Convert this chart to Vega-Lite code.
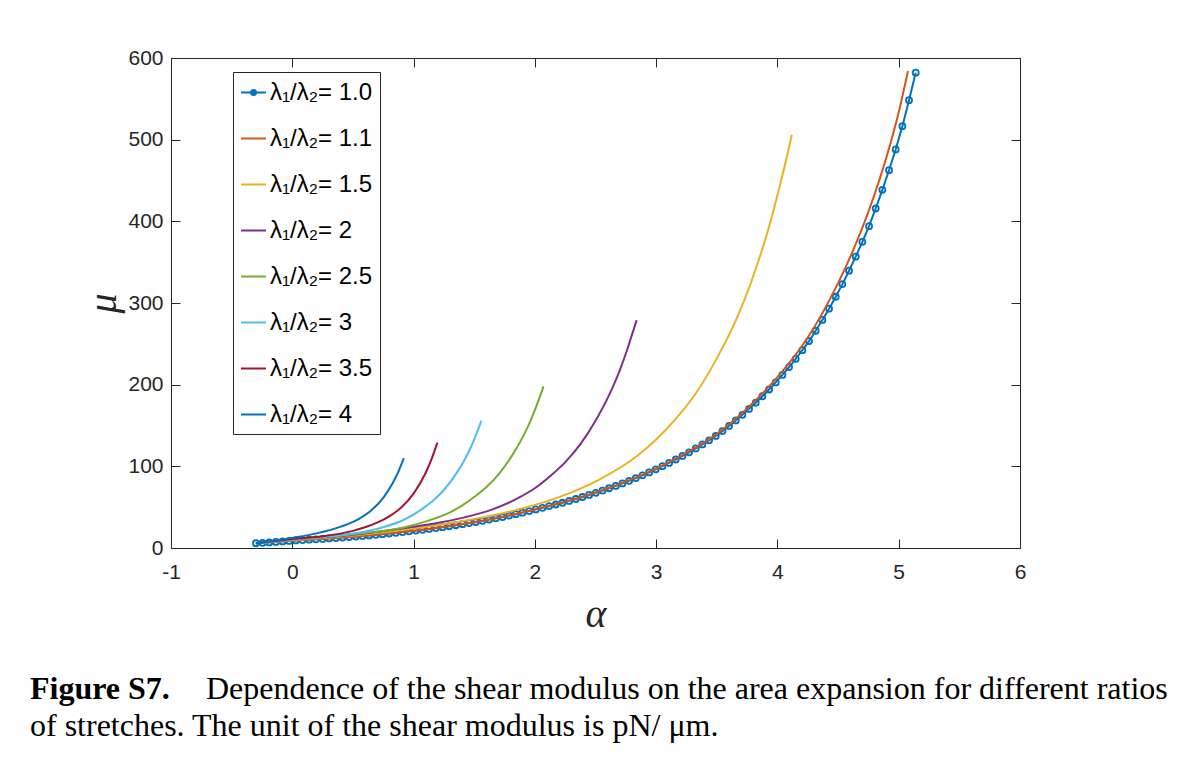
{
  "$schema": "https://vega.github.io/schema/vega-lite/v6.json",
  "width": 849,
  "height": 490,
  "autosize": {"type": "none"},
  "padding": {"left": 171, "top": 58, "right": 178, "bottom": 212},
  "background": "white",
  "config": {
    "view": {"stroke": "#262626", "strokeWidth": 1},
    "axis": {"grid": false, "domainColor": "#262626", "tickColor": "#262626", "labelColor": "#262626", "labelFont": "Liberation Sans", "labelFontSize": 21, "tickSize": -9, "labelFlush": false, "titleColor": "#262626", "titleFont": "Liberation Serif", "titleFontStyle": "italic", "titleFontWeight": "normal", "titleFontSize": 40}
  },
  "title": {
    "text": "Figure S7.",
    "subtitle": ["\u200b\u2003\u2003\u2003\u2003\u2003\u2002Dependence of the shear modulus on the area expansion for different ratios", "of stretches. The unit of the shear modulus is pN/ \u03bcm."],
    "orient": "bottom", "anchor": "start", "frame": "group", "dx": -141, "offset": 40,
    "font": "Liberation Serif", "fontSize": 32, "fontWeight": "bold", "color": "black",
    "subtitleFont": "Liberation Serif", "subtitleFontSize": 32, "subtitleFontWeight": "normal", "subtitleColor": "black", "subtitlePadding": -32, "subtitleLineHeight": 37
  },
  "datasets": {
    "curves": [
      {"r": "1.0", "a": -0.3, "mu": 5.8}, {"r": "1.0", "a": -0.2451, "mu": 6.29}, {"r": "1.0", "a": -0.1901, "mu": 6.81}, {"r": "1.0", "a": -0.1352, "mu": 7.38}, {"r": "1.0", "a": -0.0802, "mu": 8.0},
      {"r": "1.0", "a": -0.0253, "mu": 8.67}, {"r": "1.0", "a": 0.0297, "mu": 9.23}, {"r": "1.0", "a": 0.0846, "mu": 9.68}, {"r": "1.0", "a": 0.1396, "mu": 10.14}, {"r": "1.0", "a": 0.1945, "mu": 10.63},
      {"r": "1.0", "a": 0.2495, "mu": 11.14}, {"r": "1.0", "a": 0.3044, "mu": 11.68}, {"r": "1.0", "a": 0.3594, "mu": 12.24}, {"r": "1.0", "a": 0.4143, "mu": 12.82}, {"r": "1.0", "a": 0.4693, "mu": 13.44},
      {"r": "1.0", "a": 0.5242, "mu": 14.08}, {"r": "1.0", "a": 0.5792, "mu": 14.75}, {"r": "1.0", "a": 0.6341, "mu": 15.45}, {"r": "1.0", "a": 0.6891, "mu": 16.18}, {"r": "1.0", "a": 0.744, "mu": 16.94},
      {"r": "1.0", "a": 0.799, "mu": 17.74}, {"r": "1.0", "a": 0.8539, "mu": 18.58}, {"r": "1.0", "a": 0.9089, "mu": 19.46}, {"r": "1.0", "a": 0.9638, "mu": 20.38}, {"r": "1.0", "a": 1.0188, "mu": 21.32},
      {"r": "1.0", "a": 1.0737, "mu": 22.29}, {"r": "1.0", "a": 1.1287, "mu": 23.31}, {"r": "1.0", "a": 1.1836, "mu": 24.37}, {"r": "1.0", "a": 1.2386, "mu": 25.48}, {"r": "1.0", "a": 1.2935, "mu": 26.64},
      {"r": "1.0", "a": 1.3485, "mu": 27.86}, {"r": "1.0", "a": 1.4034, "mu": 29.13}, {"r": "1.0", "a": 1.4584, "mu": 30.46}, {"r": "1.0", "a": 1.5133, "mu": 31.84}, {"r": "1.0", "a": 1.5683, "mu": 33.27},
      {"r": "1.0", "a": 1.6232, "mu": 34.77}, {"r": "1.0", "a": 1.6782, "mu": 36.33}, {"r": "1.0", "a": 1.7331, "mu": 37.96}, {"r": "1.0", "a": 1.7881, "mu": 39.67}, {"r": "1.0", "a": 1.843, "mu": 41.45},
      {"r": "1.0", "a": 1.898, "mu": 43.31}, {"r": "1.0", "a": 1.9529, "mu": 45.25}, {"r": "1.0", "a": 2.0079, "mu": 47.27}, {"r": "1.0", "a": 2.0628, "mu": 49.19}, {"r": "1.0", "a": 2.1178, "mu": 51.19},
      {"r": "1.0", "a": 2.1727, "mu": 53.26}, {"r": "1.0", "a": 2.2277, "mu": 55.42}, {"r": "1.0", "a": 2.2826, "mu": 57.67}, {"r": "1.0", "a": 2.3376, "mu": 60.01}, {"r": "1.0", "a": 2.3925, "mu": 62.45},
      {"r": "1.0", "a": 2.4475, "mu": 64.98}, {"r": "1.0", "a": 2.5024, "mu": 67.61}, {"r": "1.0", "a": 2.5574, "mu": 70.32}, {"r": "1.0", "a": 2.6123, "mu": 73.14}, {"r": "1.0", "a": 2.6673, "mu": 76.07},
      {"r": "1.0", "a": 2.7222, "mu": 79.12}, {"r": "1.0", "a": 2.7772, "mu": 82.29}, {"r": "1.0", "a": 2.8321, "mu": 85.59}, {"r": "1.0", "a": 2.8871, "mu": 89.02}, {"r": "1.0", "a": 2.942, "mu": 92.58},
      {"r": "1.0", "a": 2.997, "mu": 96.3}, {"r": "1.0", "a": 3.0519, "mu": 100.15}, {"r": "1.0", "a": 3.1069, "mu": 104.17}, {"r": "1.0", "a": 3.1618, "mu": 108.34}, {"r": "1.0", "a": 3.2168, "mu": 112.7},
      {"r": "1.0", "a": 3.2717, "mu": 117.21}, {"r": "1.0", "a": 3.3267, "mu": 121.92}, {"r": "1.0", "a": 3.3816, "mu": 126.81}, {"r": "1.0", "a": 3.4366, "mu": 131.9}, {"r": "1.0", "a": 3.4915, "mu": 137.19},
      {"r": "1.0", "a": 3.5465, "mu": 143.17}, {"r": "1.0", "a": 3.6014, "mu": 149.52}, {"r": "1.0", "a": 3.6564, "mu": 156.17}, {"r": "1.0", "a": 3.7113, "mu": 163.1}, {"r": "1.0", "a": 3.7663, "mu": 170.35},
      {"r": "1.0", "a": 3.8212, "mu": 177.92}, {"r": "1.0", "a": 3.8762, "mu": 185.83}, {"r": "1.0", "a": 3.9311, "mu": 194.08}, {"r": "1.0", "a": 3.9861, "mu": 202.72}, {"r": "1.0", "a": 4.041, "mu": 211.93},
      {"r": "1.0", "a": 4.096, "mu": 221.58}, {"r": "1.0", "a": 4.1509, "mu": 231.63}, {"r": "1.0", "a": 4.2059, "mu": 242.2}, {"r": "1.0", "a": 4.2608, "mu": 253.38}, {"r": "1.0", "a": 4.3158, "mu": 266.0},
      {"r": "1.0", "a": 4.3707, "mu": 279.22}, {"r": "1.0", "a": 4.4257, "mu": 293.09}, {"r": "1.0", "a": 4.4806, "mu": 307.67}, {"r": "1.0", "a": 4.5356, "mu": 323.15}, {"r": "1.0", "a": 4.5905, "mu": 339.55},
      {"r": "1.0", "a": 4.6455, "mu": 356.78}, {"r": "1.0", "a": 4.7004, "mu": 374.85}, {"r": "1.0", "a": 4.7554, "mu": 394.08}, {"r": "1.0", "a": 4.8103, "mu": 415.7}, {"r": "1.0", "a": 4.8653, "mu": 438.54},
      {"r": "1.0", "a": 4.9202, "mu": 462.59}, {"r": "1.0", "a": 4.9752, "mu": 488.01}, {"r": "1.0", "a": 5.0301, "mu": 516.58}, {"r": "1.0", "a": 5.0851, "mu": 548.3}, {"r": "1.0", "a": 5.14, "mu": 582.0},
      {"r": "1.1", "a": -0.3, "mu": 5.8}, {"r": "1.1", "a": 0, "mu": 9.05}, {"r": "1.1", "a": 0.5, "mu": 13.9}, {"r": "1.1", "a": 1, "mu": 21.1}, {"r": "1.1", "a": 1.5, "mu": 31.6}, {"r": "1.1", "a": 2, "mu": 47.2}, {"r": "1.1", "a": 2.5, "mu": 67.9}, {"r": "1.1", "a": 3, "mu": 97.2}, {"r": "1.1", "a": 3.25, "mu": 116.4}, {"r": "1.1", "a": 3.5, "mu": 139.7}, {"r": "1.1", "a": 3.75, "mu": 170.9}, {"r": "1.1", "a": 4, "mu": 209.2}, {"r": "1.1", "a": 4.25, "mu": 257.7}, {"r": "1.1", "a": 4.5, "mu": 324.4}, {"r": "1.1", "a": 4.625, "mu": 364.7}, {"r": "1.1", "a": 4.75, "mu": 411.6}, {"r": "1.1", "a": 4.9, "mu": 479}, {"r": "1.1", "a": 5.0, "mu": 533.6}, {"r": "1.1", "a": 5.076, "mu": 584},
      {"r": "1.5", "a": -0.3, "mu": 5.8}, {"r": "1.5", "a": 0, "mu": 9.6}, {"r": "1.5", "a": 0.5, "mu": 15.2}, {"r": "1.5", "a": 1.0, "mu": 23.8}, {"r": "1.5", "a": 1.218, "mu": 28.5}, {"r": "1.5", "a": 1.407, "mu": 33.0}, {"r": "1.5", "a": 1.667, "mu": 40.5}, {"r": "1.5", "a": 1.94, "mu": 50.1}, {"r": "1.5", "a": 2.227, "mu": 63.8}, {"r": "1.5", "a": 2.527, "mu": 83.5}, {"r": "1.5", "a": 2.84, "mu": 112.3}, {"r": "1.5", "a": 2.998, "mu": 132.6}, {"r": "1.5", "a": 3.167, "mu": 159}, {"r": "1.5", "a": 3.335, "mu": 191}, {"r": "1.5", "a": 3.507, "mu": 234}, {"r": "1.5", "a": 3.682, "mu": 287}, {"r": "1.5", "a": 3.86, "mu": 359}, {"r": "1.5", "a": 3.932, "mu": 394}, {"r": "1.5", "a": 4.005, "mu": 434.7}, {"r": "1.5", "a": 4.078, "mu": 479}, {"r": "1.5", "a": 4.119, "mu": 506},
      {"r": "2", "a": -0.3, "mu": 5.8}, {"r": "2", "a": 0, "mu": 10.0}, {"r": "2", "a": 0.5, "mu": 16.2}, {"r": "2", "a": 1.0, "mu": 26.0}, {"r": "2", "a": 1.205, "mu": 30.8}, {"r": "2", "a": 1.42, "mu": 37.5}, {"r": "2", "a": 1.645, "mu": 47.0}, {"r": "2", "a": 1.88, "mu": 62.5}, {"r": "2", "a": 1.999, "mu": 73.1}, {"r": "2", "a": 2.125, "mu": 87.9}, {"r": "2", "a": 2.251, "mu": 105.2}, {"r": "2", "a": 2.38, "mu": 128.1}, {"r": "2", "a": 2.511, "mu": 158.5}, {"r": "2", "a": 2.645, "mu": 197.8}, {"r": "2", "a": 2.699, "mu": 217.3}, {"r": "2", "a": 2.754, "mu": 239.7}, {"r": "2", "a": 2.809, "mu": 265}, {"r": "2", "a": 2.839, "mu": 279},
      {"r": "2.5", "a": -0.3, "mu": 5.8}, {"r": "2.5", "a": 0, "mu": 10.2}, {"r": "2.5", "a": 0.25, "mu": 13.0}, {"r": "2.5", "a": 0.5, "mu": 16.8}, {"r": "2.5", "a": 0.764, "mu": 21.0}, {"r": "2.5", "a": 0.936, "mu": 25.8}, {"r": "2.5", "a": 1.116, "mu": 33.2}, {"r": "2.5", "a": 1.304, "mu": 44.0}, {"r": "2.5", "a": 1.399, "mu": 51.9}, {"r": "2.5", "a": 1.5, "mu": 62.4}, {"r": "2.5", "a": 1.601, "mu": 74.6}, {"r": "2.5", "a": 1.704, "mu": 90.9}, {"r": "2.5", "a": 1.809, "mu": 112.5}, {"r": "2.5", "a": 1.916, "mu": 140.4}, {"r": "2.5", "a": 1.9594, "mu": 154.2}, {"r": "2.5", "a": 2.003, "mu": 170}, {"r": "2.5", "a": 2.047, "mu": 187.5}, {"r": "2.5", "a": 2.0713, "mu": 198},
      {"r": "3", "a": -0.3, "mu": 5.8}, {"r": "3", "a": 0, "mu": 10.4}, {"r": "3", "a": 0.25, "mu": 13.4}, {"r": "3", "a": 0.47, "mu": 16.8}, {"r": "3", "a": 0.6133, "mu": 20.4}, {"r": "3", "a": 0.7633, "mu": 26.0}, {"r": "3", "a": 0.92, "mu": 34.6}, {"r": "3", "a": 0.9992, "mu": 40.9}, {"r": "3", "a": 1.0833, "mu": 49.1}, {"r": "3", "a": 1.1675, "mu": 58.8}, {"r": "3", "a": 1.2533, "mu": 71.6}, {"r": "3", "a": 1.3408, "mu": 88.6}, {"r": "3", "a": 1.43, "mu": 110.6}, {"r": "3", "a": 1.4661, "mu": 121.5}, {"r": "3", "a": 1.5025, "mu": 134}, {"r": "3", "a": 1.5392, "mu": 147.7}, {"r": "3", "a": 1.5594, "mu": 156},
      {"r": "3.5", "a": -0.3, "mu": 5.8}, {"r": "3.5", "a": 0, "mu": 10.9}, {"r": "3.5", "a": 0.25, "mu": 14.4}, {"r": "3.5", "a": 0.5, "mu": 21.0}, {"r": "3.5", "a": 0.6, "mu": 25.4}, {"r": "3.5", "a": 0.7, "mu": 31.0}, {"r": "3.5", "a": 0.8, "mu": 38.7}, {"r": "3.5", "a": 0.9, "mu": 49.8}, {"r": "3.5", "a": 1.0, "mu": 66.6}, {"r": "3.5", "a": 1.1, "mu": 92.2}, {"r": "3.5", "a": 1.15, "mu": 109.5}, {"r": "3.5", "a": 1.196, "mu": 129},
      {"r": "4", "a": -0.3, "mu": 5.8}, {"r": "4", "a": -0.15, "mu": 8.8}, {"r": "4", "a": 0, "mu": 12.4}, {"r": "4", "a": 0.2, "mu": 17.9}, {"r": "4", "a": 0.4, "mu": 26.1}, {"r": "4", "a": 0.55, "mu": 35.8}, {"r": "4", "a": 0.65, "mu": 46}, {"r": "4", "a": 0.75, "mu": 61.5}, {"r": "4", "a": 0.8225, "mu": 78}, {"r": "4", "a": 0.8496, "mu": 85.7}, {"r": "4", "a": 0.8769, "mu": 94.2}, {"r": "4", "a": 0.9044, "mu": 104.2}, {"r": "4", "a": 0.9196, "mu": 110}
    ]
  },
  "data": {"name": "curves"},
  "layer": [
    {
      "transform": [{"filter": "datum.r == '1.0'"}],
      "mark": {"type": "line", "strokeWidth": 2},
      "encoding": {
        "x": {"field": "a", "type": "quantitative", "scale": {"domain": [-1, 6], "nice": false, "zero": false}, "axis": {"values": [-1, 0, 1, 2, 3, 4, 5, 6], "labelExpr": "datum.value + ''", "labelPadding": 22, "title": "α", "titlePadding": 12}},
        "y": {"field": "mu", "type": "quantitative", "scale": {"domain": [0, 600], "nice": false}, "axis": {"values": [0, 100, 200, 300, 400, 500, 600], "labelPadding": 17, "title": "μ", "titlePadding": 4}},
        "color": {"field": "r", "type": "nominal", "sort": ["1.0", "1.1", "1.5", "2", "2.5", "3", "3.5", "4"],
          "scale": {"domain": ["1.0", "1.1", "1.5", "2", "2.5", "3", "3.5", "4"], "range": ["#0072BD", "#D95319", "#EDB120", "#7E2F8E", "#77AC30", "#4DBEEE", "#A2142F", "#0072BD"]},
          "legend": {"orient": "none", "legendX": 62, "legendY": 14, "title": null, "labelExpr": "'λ₁/λ₂= ' + datum.label", "labelFont": "Liberation Sans", "labelFontSize": 24, "labelColor": "black", "symbolType": "stroke", "symbolSize": 625, "symbolStrokeWidth": 2, "rowPadding": 20, "padding": 7, "labelOffset": 3, "strokeColor": "#262626", "fillColor": "white", "cornerRadius": 0,
            "encode": {"symbols": {"update": {
              "shape": {"signal": "datum.value == '1.0' ? 'M-1,0L1,0M0.2,0A0.2,0.2,0,1,1,-0.2,0A0.2,0.2,0,1,1,0.2,0Z' : 'stroke'"},
              "fill": {"signal": "datum.value == '1.0' ? '#0072BD' : 'transparent'"}
            }}}}}
      }
    },
    {
      "transform": [{"filter": "datum.r == '1.0'"}],
      "mark": {"type": "point", "filled": false, "size": 36, "strokeWidth": 1.8, "color": "#0072BD", "opacity": 1},
      "encoding": {
        "x": {"field": "a", "type": "quantitative", "axis": {"orient": "top", "values": [-1, 0, 1, 2, 3, 4, 5, 6], "labels": false, "title": null}},
        "y": {"field": "mu", "type": "quantitative", "axis": {"orient": "right", "values": [0, 100, 200, 300, 400, 500, 600], "labels": false, "title": null}}
      }
    },
    {
      "transform": [{"filter": "datum.r != '1.0'"}],
      "mark": {"type": "line", "strokeWidth": 2, "interpolate": "monotone"},
      "encoding": {
        "x": {"field": "a", "type": "quantitative", "axis": null},
        "y": {"field": "mu", "type": "quantitative", "axis": null},
        "color": {"field": "r", "type": "nominal"}
      }
    }
  ],
  "resolve": {"axis": {"x": "independent", "y": "independent"}}
}
